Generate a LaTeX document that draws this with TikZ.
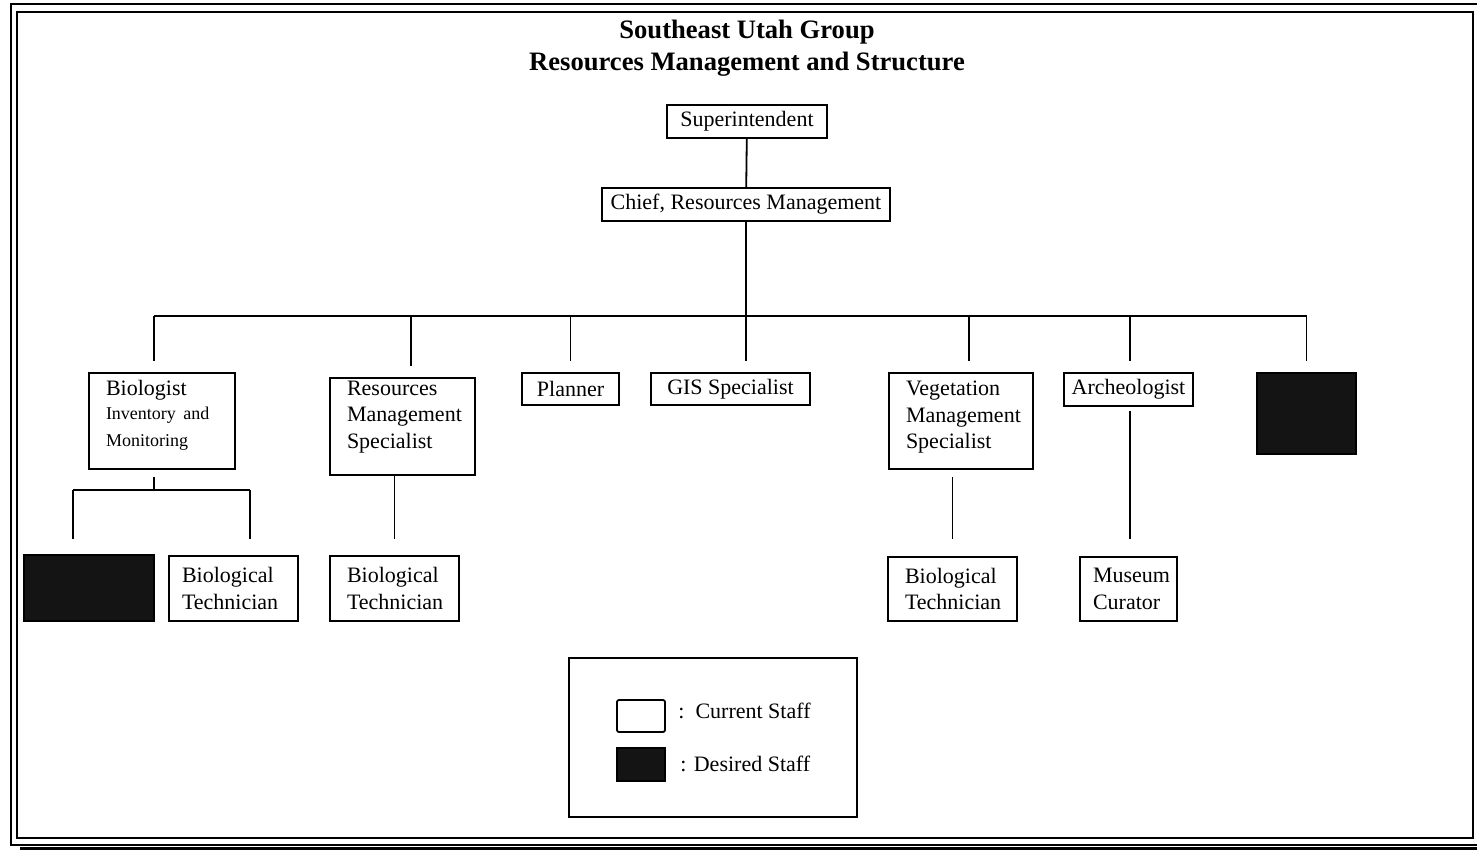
\documentclass[tikz,border=0pt]{standalone}
\usepackage{fontspec}
\setmainfont{Liberation Serif}
\begin{document}
\begin{tikzpicture}[x=0.5pt,y=-0.5pt,
  box/.style={draw,line width=0.9pt,inner sep=0pt,font=\fontsize{11}{13.2}\selectfont},
  sz/.style 2 args={minimum width=#1*0.5pt,minimum height=#2*0.5pt},
  ml/.style={align=left,text width=#1*0.5pt},
  desired/.style={draw,line width=0.9pt,fill=black!92,inner sep=0pt},
  conn/.style={line width=0.9pt},
  frame/.style={line width=1.4pt}]
\useasboundingbox (0,0) rectangle (1477,850);
% frame
\draw[frame] (1477,4) -- (11,4) -- (11,845) -- (1477,845);
\draw[line width=1pt] (17,12) rectangle (1473,838);
\fill[black] (20,847) rectangle (1477,850);
% title
\node[align=center,font=\fontsize{13.3}{16}\bfseries] (title) at (747,48) {Southeast Utah Group\\Resources Management and Structure};
% boxes
\node[box,sz={160}{33}] (sup) at (747,121.5) {\raisebox{-1pt}{Superintendent}};
\node[box,sz={288}{33}] (chief) at (746,204.5) {Chief, Resources Management};
\node[box,sz={146}{96},ml=112] (bio) at (162,421) {Biologist\\[-1pt]{\fontsize{9}{13}\selectfont Inventory and}\\{\fontsize{9}{13}\selectfont Monitoring\rule[-8pt]{0pt}{8pt}}};
\node[box,sz={145}{97},ml=111] (rms) at (402.5,426.5) {Resources\\Management\\Specialist\rule[-12pt]{0pt}{12pt}};
\node[box,sz={97}{32}] (plan) at (570.5,389) {Planner};
\node[box,sz={159}{32}] (gis) at (730.5,389) {GIS Specialist};
\node[box,sz={144}{96},ml=110] (veg) at (961,421) {Vegetation\\Management\\Specialist\rule[-6pt]{0pt}{6pt}};
\node[box,sz={129}{33}] (arch) at (1128.5,389.5) {Archeologist};
\node[desired,sz={99}{81}] (des1) at (1306.5,413.5) {};
\node[desired,sz={130}{66}] (des2) at (89,588) {};
\node[box,sz={129}{65},ml=103] (bt1) at (233.5,588.5) {Biological\\Technician};
\node[box,sz={129}{65},ml=95] (bt2) at (394.5,588.5) {Biological\\Technician};
\node[box,sz={129}{64},ml=95] (bt3) at (952.5,589) {Biological\\Technician};
\node[box,sz={97}{64},ml=71] (cur) at (1128.5,589) {Museum\\Curator};
% connectors
\coordinate (bar) at (746,316);
\draw[conn] (sup) -- (chief);
\draw[conn,shorten >=5.5pt] (chief.south) -- ([xshift=7.75pt]gis.north);
\draw[conn] ([xshift=-4pt]bio.north |- bar) -- (des1.north |- bar);
\draw[conn,shorten >=5.5pt] ([xshift=-4pt]bio.north |- bar) -- ([xshift=-4pt]bio.north);
\draw[conn,shorten >=5.5pt] ([xshift=4.25pt]rms.north |- bar) -- ([xshift=4.25pt]rms.north);
\draw[conn,shorten >=5.5pt] (plan.north |- bar) -- (plan.north);
\draw[conn,shorten >=5.5pt] ([xshift=4pt]veg.north |- bar) -- ([xshift=4pt]veg.north);
\draw[conn,shorten >=5.5pt] ([xshift=0.75pt]arch.north |- bar) -- ([xshift=0.75pt]arch.north);
\draw[conn,shorten >=5.5pt] (des1.north |- bar) -- (des1.north);
% biologist subtree
\coordinate (bbar) at (154,490);
\draw[conn,shorten <=3.5pt] ([xshift=-4pt]bio.south) -- ([xshift=-4pt]bio.south |- bbar);
\draw[conn] ([xshift=-8pt]des2.north |- bbar) -- ([xshift=8.25pt]bt1.north |- bbar);
\draw[conn,shorten >=7.5pt] ([xshift=-8pt]des2.north |- bbar) -- ([xshift=-8pt]des2.north);
\draw[conn,shorten >=8pt] ([xshift=8.25pt]bt1.north |- bbar) -- ([xshift=8.25pt]bt1.north);
\draw[conn,shorten >=8pt] (bt2.north |- rms.south) -- (bt2.north);
\draw[conn,shorten <=3.5pt,shorten >=8.5pt] ([xshift=-4.25pt]veg.south) -- ([xshift=-4.25pt]veg.south |- bt3.north);
\draw[conn,shorten <=2pt,shorten >=8.5pt] ([xshift=0.75pt]arch.south) -- ([xshift=0.75pt]arch.south |- cur.north);
% legend
\node[draw,line width=0.9pt,sz={288}{159}] (legend) at (713,737.5) {};
\node[draw,line width=0.9pt,rounded corners=1pt,sz={48}{32}] (lcur) at (641,716) {};
\node[desired,sz={48}{33}] (ldes) at (641,764.5) {};
\node[anchor=west,inner sep=0pt,font=\fontsize{11}{13}\selectfont] (tcur) at (678,711) {:\ \ Current Staff};
\node[anchor=west,inner sep=0pt,font=\fontsize{11}{13}\selectfont] (tdes) at (680,764) {: Desired Staff};
\end{tikzpicture}
\end{document}
